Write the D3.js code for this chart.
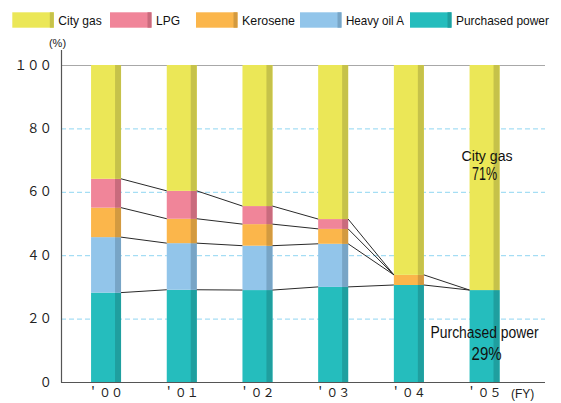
<!DOCTYPE html>
<html>
<head>
<meta charset="utf-8">
<script src="https://cdn.jsdelivr.net/npm/d3@7/dist/d3.min.js"></script>
<style>
  body { margin: 0; background: #fff; }
  svg { display: block; }
</style>
</head>
<body>
<svg id="chart" width="561" height="403"></svg>
<script>
// Fiscal years on the x axis
const years = ["'00", "'01", "'02", "'03", "'04", "'05"];
// Share of energy sources (%), per fiscal year
const purchasedPower = [28.2, 29.1, 29.0, 30.0, 30.6, 29];
const heavyOilA      = [17.5, 14.7, 14.0, 13.6, 0, 0];
const kerosene       = [9.3, 7.7, 6.8, 4.7, 3.2, 0];
const lpg            = [9.1, 8.8, 5.7, 3.1, 0, 0];
const cityGas        = [35.9, 39.7, 44.5, 48.6, 66.2, 71];
// Value axis ticks
const yTicks = [0, 20, 40, 60, 80, 100];

// Series, listed bottom of stack first
const seriesKeys = ["power", "heavy", "kero", "lpg", "city"];
const seriesNames = {
  city: "City gas", lpg: "LPG", kero: "Kerosene", heavy: "Heavy oil A", power: "Purchased power"
};
const fillMain = {
  city: "#ebe757", lpg: "#f08599", kero: "#fbb64b", heavy: "#92c5ea", power: "#25bdbd"
};
const fillShade = {
  city: "#c6c24a", lpg: "#c96b7d", kero: "#d39a40", heavy: "#78a5c6", power: "#1f9f9f"
};

const rows = years.map((yr, i) => ({
  year: yr,
  power: purchasedPower[i],
  heavy: heavyOilA[i],
  kero: kerosene[i],
  lpg: lpg[i],
  city: cityGas[i]
}));

const toFullWidth = s => String(s).replace(/[0-9]/g, c => String.fromCharCode(c.charCodeAt(0) + 0xFEE0));

const svg = d3.select("#chart");

const plotLeft = 61, plotRight = 545;
const x = d3.scaleBand().domain(years).range([68.2, 522.4]).paddingInner(0.604).paddingOuter(0.302);
const y = d3.scaleLinear().domain([0, 100]).range([382, 65]);
const bw = x.bandwidth();
const shadeW = 6;

// Gridlines
const grid = svg.append("g");
grid.selectAll("line")
  .data(yTicks.filter(t => t > 0))
  .join("line")
  .attr("x1", plotLeft).attr("x2", plotRight)
  .attr("y1", d => y(d) + 0.5).attr("y2", d => y(d) + 0.5)
  .attr("stroke", d => d === 100 ? "#a8a8a8" : "#8fd6f2")
  .attr("stroke-width", 1)
  .attr("stroke-dasharray", d => d === 100 ? null : "5,3");

// Stacked bars
const stacked = d3.stack().keys(seriesKeys)(rows);
const layers = svg.append("g").selectAll("g")
  .data(stacked)
  .join("g");

layers.selectAll("rect.main")
  .data(s => s.map(d => ({ key: s.key, d })))
  .join("rect")
  .attr("class", "main")
  .attr("x", o => x(o.d.data.year))
  .attr("y", o => y(o.d[1]))
  .attr("width", bw)
  .attr("height", o => y(o.d[0]) - y(o.d[1]))
  .attr("fill", o => fillMain[o.key]);

layers.selectAll("rect.shade")
  .data(s => s.map(d => ({ key: s.key, d })))
  .join("rect")
  .attr("class", "shade")
  .attr("x", o => x(o.d.data.year) + bw - shadeW)
  .attr("y", o => y(o.d[1]))
  .attr("width", shadeW)
  .attr("height", o => y(o.d[0]) - y(o.d[1]))
  .attr("fill", o => fillShade[o.key]);

// Connector lines between the boundaries of neighbouring bars.
// A boundary above an empty segment follows the next non-empty segment above it.
const lower = seriesKeys.slice(0, 4);
function boundary(i, k) {
  const r = rows[i];
  let m = k;
  while (m < lower.length && r[lower[m]] === 0) m++;
  if (m >= lower.length) m = lower.length - 1;
  let sum = 0;
  for (let j = 0; j <= m; j++) sum += r[lower[j]];
  return sum;
}
const links = [];
const seen = new Set();
for (let i = 0; i < rows.length - 1; i++) {
  for (let k = 0; k < lower.length; k++) {
    const a = boundary(i, k), b = boundary(i + 1, k);
    const key = i + ":" + a.toFixed(2) + ":" + b.toFixed(2);
    if (seen.has(key)) continue;
    seen.add(key);
    links.push({ i, a, b });
  }
}
svg.append("g").selectAll("line")
  .data(links)
  .join("line")
  .attr("x1", d => x(years[d.i]) + bw)
  .attr("x2", d => x(years[d.i + 1]))
  .attr("y1", d => y(d.a))
  .attr("y2", d => y(d.b))
  .attr("stroke", "#2a2a2a")
  .attr("stroke-width", 1);

// Axes
const yAxis = d3.axisLeft(y).tickValues(yTicks).tickSize(0).tickPadding(9)
  .tickFormat(d => toFullWidth(d));
const gy = svg.append("g").attr("transform", `translate(${plotLeft},0)`).call(yAxis);
gy.select(".domain").remove();
gy.selectAll("text")
  .attr("font-family", "'Noto Sans CJK JP', sans-serif")
  .attr("font-size", 12.5)
  .attr("fill", "#222");

const xAxis = d3.axisBottom(x).tickSize(0).tickPadding(6)
  .tickFormat(d => "＇" + toFullWidth(d.slice(1)));
const gx = svg.append("g").attr("transform", `translate(0,${y(0)})`).call(xAxis);
gx.select(".domain").remove();
gx.selectAll("text")
  .attr("font-family", "'Noto Sans CJK JP', sans-serif")
  .attr("font-size", 12)
  .attr("fill", "#222")
  .attr("dx", -1);

svg.append("line")
  .attr("x1", plotLeft + 0.5).attr("x2", plotLeft + 0.5)
  .attr("y1", 50).attr("y2", y(0) + 0.5)
  .attr("stroke", "#555").attr("stroke-width", 1.2);
svg.append("line")
  .attr("x1", plotLeft).attr("x2", plotRight)
  .attr("y1", y(0) + 0.5).attr("y2", y(0) + 0.5)
  .attr("stroke", "#555").attr("stroke-width", 1.2);

svg.append("text")
  .attr("x", 57.5).attr("y", 47)
  .attr("text-anchor", "middle")
  .attr("font-family", "'Liberation Sans', Arial, sans-serif")
  .attr("font-size", 11)
  .attr("fill", "#222")
  .text("(%)");

svg.append("text")
  .attr("x", 511).attr("y", 398)
  .attr("font-family", "'Liberation Sans', Arial, sans-serif")
  .attr("font-size", 12)
  .attr("fill", "#222")
  .text("(FY)");

// Legend
const legendOrder = ["city", "lpg", "kero", "heavy", "power"];
const legendX = [12.3, 110, 196, 300, 410];
const legendTextW = [43.4, 24, 53, 58, 93];
const lg = svg.append("g");
legendOrder.forEach((key, i) => {
  const g = lg.append("g").attr("transform", `translate(${legendX[i]},12.3)`);
  g.append("rect").attr("width", 41.5).attr("height", 15.4).attr("fill", fillMain[key]);
  g.append("rect").attr("x", 37.5).attr("width", 4).attr("height", 15.4).attr("fill", fillShade[key]);
  g.append("text")
    .attr("x", 46).attr("y", 12.6)
    .attr("font-family", "'Liberation Sans', Arial, sans-serif")
    .attr("font-size", 13)
    .attr("fill", "#111")
    .attr("textLength", legendTextW[i])
    .attr("lengthAdjust", "spacingAndGlyphs")
    .text(seriesNames[key]);
});

// Labels for the latest year
const last = years.length - 1;
const cx = x(years[last]) + bw / 2;
const note = svg.append("g")
  .attr("font-family", "'Liberation Sans', Arial, sans-serif")
  .attr("fill", "#111")
  .attr("text-anchor", "middle");
note.append("text").attr("x", cx + 2.5).attr("y", 161).attr("font-size", 14)
  .attr("textLength", 51).attr("lengthAdjust", "spacingAndGlyphs").text("City gas");
note.append("text").attr("x", cx).attr("y", 180).attr("font-size", 18.5)
  .attr("textLength", 25).attr("lengthAdjust", "spacingAndGlyphs").text(cityGas[last] + "%");
note.append("text").attr("x", cx).attr("y", 338).attr("font-size", 16)
  .attr("textLength", 108).attr("lengthAdjust", "spacingAndGlyphs").text("Purchased power");
note.append("text").attr("x", cx + 2).attr("y", 360).attr("font-size", 18)
  .attr("textLength", 30).attr("lengthAdjust", "spacingAndGlyphs").text(purchasedPower[last] + "%");
</script>
</body>
</html>
